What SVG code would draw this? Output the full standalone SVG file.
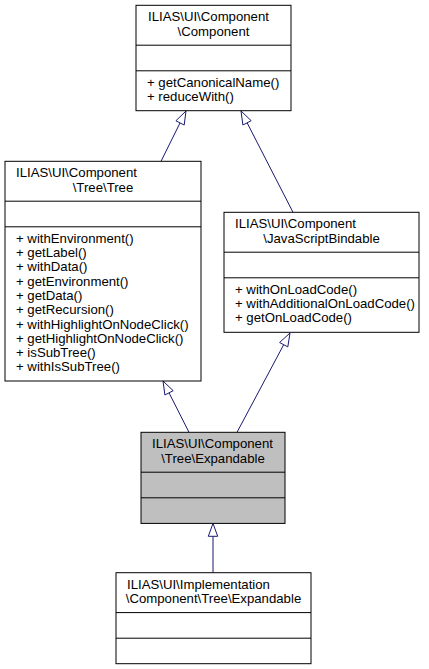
<svg xmlns="http://www.w3.org/2000/svg" width="429" height="669" viewBox="0 0 429 669">
<style>
  .box { fill: #ffffff; stroke: #000000; stroke-width: 1; }
  .hl { fill: #bfbfbf; stroke: #000000; stroke-width: 1; }
  .sep { stroke: #000000; stroke-width: 1; }
  text { font-family: "Liberation Sans", Arial, Helvetica, sans-serif; font-size: 13.2px; fill: #000000; }
  .c { text-anchor: middle; }
  .edge { stroke: #191970; stroke-width: 1; fill: none; }
  .head { stroke: #191970; stroke-width: 1; fill: #ffffff; }
</style>
<rect width="429" height="669" fill="#ffffff"/>

<g id="connectors">
  <line class="edge" x1="161" y1="161.3" x2="180.05" y2="122.9"/>
  <polygon class="head" points="186,111 184.2,125 175.9,120.8"/>
  <line class="edge" x1="293" y1="212.3" x2="247.1" y2="122.8"/>
  <polygon class="head" points="241,111 251.2,120.7 242.9,125"/>
  <line class="edge" x1="189" y1="432.3" x2="169.05" y2="392.9"/>
  <polygon class="head" points="163,381 173.2,390.7 164.9,395"/>
  <line class="edge" x1="237" y1="432.3" x2="283.7" y2="344.7"/>
  <polygon class="head" points="290,333 287.8,346.9 279.6,342.5"/>
  <line class="edge" x1="213" y1="572.7" x2="213" y2="536.3"/>
  <polygon class="head" points="213,523.4 217.7,536.3 208.3,536.3"/>
</g>

<g id="node-component">
  <rect class="box" x="136" y="5.3" width="155" height="105.4"/>
  <line class="sep" x1="136" y1="45.2" x2="291" y2="45.2"/>
  <line class="sep" x1="136" y1="70.8" x2="291" y2="70.8"/>
  <text x="148" y="21.3">ILIAS\UI\Component</text>
  <text class="c" x="213.5" y="35.6">\Component</text>
  <text x="147" y="86.8">+ getCanonicalName()</text>
  <text x="147" y="101.1">+ reduceWith()</text>
</g>

<g id="node-tree">
  <rect class="box" x="5" y="161.3" width="196" height="219.7"/>
  <line class="sep" x1="5" y1="201.2" x2="201" y2="201.2"/>
  <line class="sep" x1="5" y1="226.8" x2="201" y2="226.8"/>
  <text x="16" y="177.3">ILIAS\UI\Component</text>
  <text class="c" x="103" y="191.6">\Tree\Tree</text>
  <text x="16" y="242.8">+ withEnvironment()</text>
  <text x="16" y="257.1">+ getLabel()</text>
  <text x="16" y="271.4">+ withData()</text>
  <text x="16" y="285.7">+ getEnvironment()</text>
  <text x="16" y="300.0">+ getData()</text>
  <text x="16" y="314.2">+ getRecursion()</text>
  <text x="16" y="328.5">+ withHighlightOnNodeClick()</text>
  <text x="16" y="342.8">+ getHighlightOnNodeClick()</text>
  <text x="16" y="357.1">+ isSubTree()</text>
  <text x="16" y="371.4">+ withIsSubTree()</text>
</g>

<g id="node-javascriptbindable">
  <rect class="box" x="224" y="212.3" width="195" height="120"/>
  <line class="sep" x1="224" y1="252.2" x2="419" y2="252.2"/>
  <line class="sep" x1="224" y1="277.8" x2="419" y2="277.8"/>
  <text x="235" y="228.3">ILIAS\UI\Component</text>
  <text class="c" x="321.5" y="242.6">\JavaScriptBindable</text>
  <text x="235" y="293.8">+ withOnLoadCode()</text>
  <text x="235" y="308.1">+ withAdditionalOnLoadCode()</text>
  <text x="235" y="322.4">+ getOnLoadCode()</text>
</g>

<g id="node-expandable">
  <rect class="hl" x="141" y="432.3" width="144" height="91.1"/>
  <line class="sep" x1="141" y1="472.2" x2="285" y2="472.2"/>
  <line class="sep" x1="141" y1="497.8" x2="285" y2="497.8"/>
  <text x="152" y="448.3">ILIAS\UI\Component</text>
  <text class="c" x="213" y="462.6">\Tree\Expandable</text>
</g>

<g id="node-impl-expandable">
  <rect class="box" x="116" y="572.7" width="195" height="91"/>
  <line class="sep" x1="116" y1="612.6" x2="311" y2="612.6"/>
  <line class="sep" x1="116" y1="638.2" x2="311" y2="638.2"/>
  <text x="127" y="588.7">ILIAS\UI\Implementation</text>
  <text class="c" x="213.5" y="603.0">\Component\Tree\Expandable</text>
</g>
</svg>
